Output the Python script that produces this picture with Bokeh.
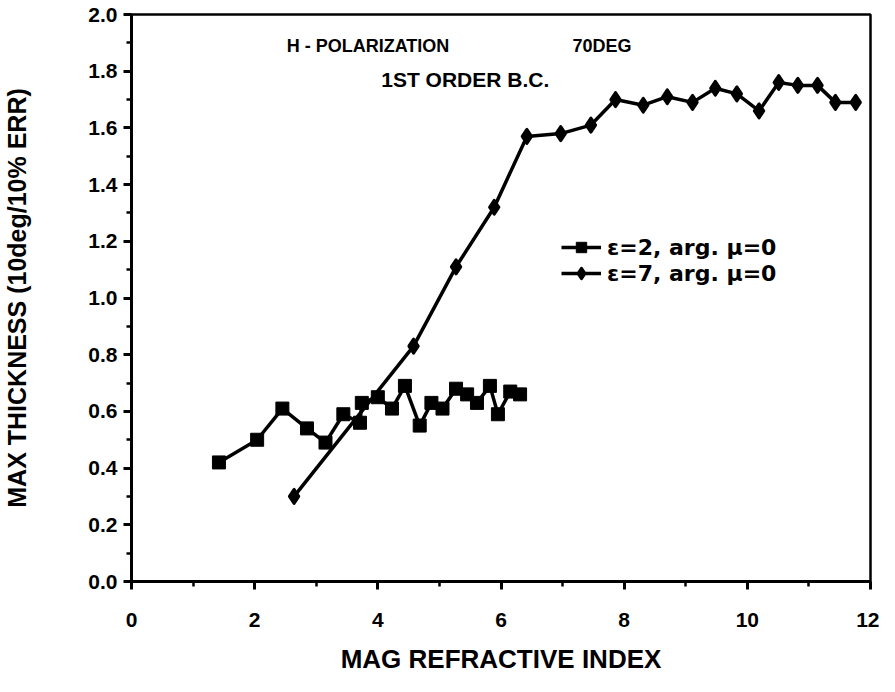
from bokeh.plotting import figure
from bokeh.models import Range1d, Label, Legend, LegendItem, FixedTicker
from bokeh.embed import file_html
from bokeh.resources import INLINE

# Series: eps=2, arg mu=0 (squares)
eps2_x = [1.42, 2.04, 2.45, 2.85, 3.15, 3.44, 3.71, 3.74, 4.00, 4.23, 4.44, 4.68,
          4.87, 5.05, 5.27, 5.45, 5.61, 5.82, 5.95, 6.15, 6.31]
eps2_y = [0.42, 0.50, 0.61, 0.54, 0.49, 0.59, 0.56, 0.63, 0.65, 0.61, 0.69, 0.55,
          0.63, 0.61, 0.68, 0.66, 0.63, 0.69, 0.59, 0.67, 0.66]

# Series: eps=7, arg mu=0 (diamonds)
eps7_x = [2.64, 4.58, 5.27, 5.89, 6.42, 6.97, 7.46, 7.86, 8.31, 8.70, 9.11, 9.48,
          9.83, 10.19, 10.51, 10.82, 11.14, 11.43, 11.76]
eps7_y = [0.30, 0.83, 1.11, 1.32, 1.57, 1.58, 1.61, 1.70, 1.68, 1.71, 1.69, 1.74,
          1.72, 1.66, 1.76, 1.75, 1.75, 1.69, 1.69]

x_ticks = [0, 2, 4, 6, 8, 10, 12]
y_ticks = [0.0, 0.2, 0.4, 0.6, 0.8, 1.0, 1.2, 1.4, 1.6, 1.8, 2.0]
y_tick_labels = {t: f"{t:.1f}" for t in y_ticks}

series_labels = ["\u03b5=2, arg. \u03bc=0", "\u03b5=7, arg. \u03bc=0"]

FONT = "Liberation Sans"

p = figure(width=879, height=676, output_backend="svg", toolbar_location=None,
           x_range=Range1d(0, 12), y_range=Range1d(0, 2.0),
           min_border_left=130, min_border_right=9, min_border_top=14, min_border_bottom=94)
p.grid.visible = False
p.outline_line_color = "black"
p.outline_line_width = 2.5
p.background_fill_color = "white"
p.border_fill_color = "white"

for ax in (p.xaxis[0], p.yaxis[0]):
    ax.axis_line_width = 3
    ax.major_tick_line_width = 3
    ax.minor_tick_line_width = 2.5
    ax.major_tick_in = 0
    ax.minor_tick_in = 0
    ax.major_tick_out = 8
    ax.minor_tick_out = 5
    ax.major_label_text_font = FONT
    ax.major_label_text_font_style = "bold"
    ax.major_label_text_font_size = "21px"
    ax.major_label_text_color = "black"
    ax.axis_label_text_font = FONT
    ax.axis_label_text_font_style = "bold"
    ax.axis_label_text_color = "black"

p.xaxis.ticker = FixedTicker(ticks=x_ticks, minor_ticks=list(range(0, 13)))
p.yaxis.ticker = FixedTicker(ticks=y_ticks, minor_ticks=[i / 10 for i in range(0, 21)])
p.yaxis.major_label_overrides = y_tick_labels
p.xaxis.major_label_standoff = 23
p.yaxis.major_label_standoff = 6
p.xaxis.axis_label = "MAG REFRACTIVE INDEX"
p.yaxis.axis_label = "MAX THICKNESS (10deg/10% ERR)"
p.xaxis.axis_label_text_font_size = "26px"
p.yaxis.axis_label_text_font_size = "25px"
p.xaxis.axis_label_standoff = 14
p.yaxis.axis_label_standoff = 54

l1 = p.line(eps2_x, eps2_y, line_color="black", line_width=3.5)
s1 = p.scatter(eps2_x, eps2_y, marker="square", size=13, fill_color="black", line_color="black")
l2 = p.line(eps7_x, eps7_y, line_color="black", line_width=3.5)
s2 = p.scatter(eps7_x, eps7_y, marker="diamond", size=14, fill_color="black",
               line_color="black", line_width=3, line_join="round")

legend_style = dict(padding=0, margin=0, spacing=0, glyph_width=40, glyph_height=26,
                    label_height=26, label_standoff=6, label_text_font="DejaVu Sans",
                    label_text_font_style="bold", label_text_font_size="22px",
                    label_text_color="black", border_line_alpha=0,
                    background_fill_alpha=0)
legend1 = Legend(items=[LegendItem(label=series_labels[0], renderers=[l1, s1])],
                 location=(430, 321), **legend_style)
legend2 = Legend(items=[LegendItem(label=series_labels[1], renderers=[l2, s2])],
                 location=(430, 295), **legend_style)
p.add_layout(legend1)
p.add_layout(legend2)

for txt, x, y, fs in [("H - POLARIZATION", 3.84, 1.89, "18px"), ("70DEG", 7.64, 1.89, "18px"),
                      ("1ST ORDER B.C.", 5.42, 1.77, "21px")]:
    p.add_layout(Label(x=x, y=y, text=txt, text_align="center", text_baseline="middle",
                       text_font=FONT, text_font_style="bold", text_font_size=fs,
                       text_color="black"))

open("out.html", "w").write(file_html(p, INLINE))
